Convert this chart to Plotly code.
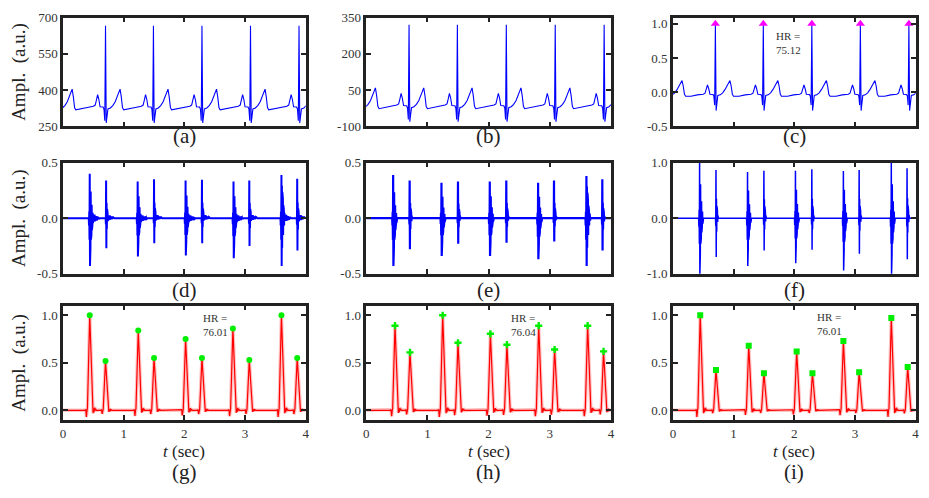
import plotly.graph_objects as go

# ---------------- data ----------------
T_RANGE = [0, 4]
T_TICKS = [0, 1, 2, 3, 4]

# ECG (row 1): R-peak times (s) and one beat
R_TIMES = [-0.09, 0.70, 1.49, 2.29, 3.09, 3.89]
ECG_DT = [-0.40, -0.30, -0.20, -0.17, -0.15, -0.13, -0.11, -0.09, -0.04, -0.025, -0.012, 0.0,
          0.012, 0.025, 0.04, 0.08, 0.12, 0.16, 0.20, 0.22, 0.24, 0.26, 0.28, 0.30, 0.35]
ECG_A = [322, 328, 333, 338, 358, 381, 362, 331, 330, 320, 273, 666,
         264, 300, 322, 326, 336, 352, 378, 395, 404, 372, 328, 318, 320]
ECG_B = [-23, -17, -12, -7, 13, 36, 17, -14, -15, -25, -72, 321,
         -81, -45, -23, -19, -9, 7, 33, 50, 59, 27, -17, -27, -25]
ECG_C = [-0.06, -0.04, -0.03, -0.015, 0.04, 0.105, 0.05, -0.03, -0.035, -0.06, -0.19, 1.0,
         -0.27, -0.12, -0.05, -0.04, -0.01, 0.04, 0.11, 0.15, 0.17, 0.09, -0.03, -0.06, -0.06]
R_PEAK_T = [0.70, 1.49, 2.29, 3.09, 3.89]
R_PEAK_V = [1.0, 1.0, 1.0, 1.0, 1.0]
HR_C = "75.12"

# PCG (row 2): heart-sound times and burst extremes
S1_TIMES = [0.44, 1.23, 2.02, 2.81, 3.60]
S2_TIMES = [0.71, 1.50, 2.29, 3.07, 3.86]
PCG_STEP = 0.004
S1_SHAPE = [0.0, -0.15, 0.15, -0.45, 1.0, -1.0, 0.75, -0.62, 0.6, -0.45, 0.45, -0.35,
            0.3, -0.25, 0.2, -0.15, 0.12, -0.1, 0.06, -0.05]
S1_MAIN = 4
S2_SHAPE = [0.0, -0.2, 1.0, -1.0, 0.4, -0.35, 0.25, -0.2, 0.15, -0.1, 0.06, -0.05]
S2_MAIN = 2
RING_TAIL = [0.06, -0.06, 0.05, -0.05, 0.08, -0.06, 0.05, -0.04, 0.04, -0.04, 0.03, -0.03,
             0.05, -0.04, 0.03, -0.03, 0.02, -0.02, 0.03, -0.02, 0.02, -0.02, 0.01, -0.01]

D_S1_POS = [0.40, 0.33, 0.34, 0.33, 0.39]
D_S1_NEG = [-0.43, -0.345, -0.335, -0.36, -0.43]
D_S2_POS = [0.34, 0.35, 0.345, 0.34, 0.355]
D_S2_NEG = [-0.27, -0.225, -0.225, -0.25, -0.29]

E_S1_POS = [0.39, 0.32, 0.33, 0.32, 0.38]
E_S1_NEG = [-0.43, -0.34, -0.34, -0.37, -0.43]
E_S2_POS = [0.34, 0.33, 0.34, 0.34, 0.35]
E_S2_NEG = [-0.28, -0.23, -0.22, -0.21, -0.29]

F_S1_POS = [1.02, 0.83, 0.855, 0.85, 1.02]
F_S1_NEG = [-1.02, -0.86, -0.81, -0.94, -1.02]
F_S2_POS = [0.87, 0.855, 0.88, 0.87, 0.90]
F_S2_NEG = [-0.70, -0.58, -0.57, -0.64, -0.74]

# Envelopes (row 3): peak times and heights
ENV_DT = [-0.08, -0.065, -0.055, -0.045, -0.038, 0.0, 0.048, 0.055, 0.062, 0.07, 0.08, 0.09, 0.10, 0.11]
ENV_FRAC = [0.0, 0.01, -0.07, 0.0, 0.02, 1.0, 0.02, -0.03, 0.02, -0.02, 0.03, 0.0, 0.01, 0.0]
G_T = [0.44, 0.70, 1.24, 1.50, 2.02, 2.29, 2.80, 3.07, 3.60, 3.86]
G_V = [1.0, 0.52, 0.84, 0.55, 0.75, 0.55, 0.86, 0.53, 1.0, 0.55]
H_T = [0.47, 0.715, 1.25, 1.50, 2.03, 2.30, 2.82, 3.08, 3.62, 3.88]
H_V = [0.89, 0.61, 1.0, 0.71, 0.805, 0.69, 0.89, 0.64, 0.89, 0.62]
I_T = [0.45, 0.71, 1.25, 1.50, 2.04, 2.30, 2.81, 3.07, 3.60, 3.87]
I_V = [1.0, 0.425, 0.68, 0.39, 0.62, 0.39, 0.73, 0.40, 0.97, 0.455]
HR_G = "76.01"
HR_H = "76.04"
HR_I = "76.01"

Y_LABEL = "Ampl.  (a.u.)"
X_LABEL = "<i>t</i> (sec)"
PANEL_LABELS = ["(a)", "(b)", "(c)", "(d)", "(e)", "(f)", "(g)", "(h)", "(i)"]

Y_AXES = [
    ([250, 700], [250, 400, 550, 700], ["250", "400", "550", "700"]),
    ([-100, 350], [-100, 50, 200, 350], ["-100", "50", "200", "350"]),
    ([-0.5, 1.09], [-0.5, 0, 0.5, 1.0], ["-0.5", "0.0", "0.5", "1.0"]),
    ([-0.5, 0.5], [-0.5, 0, 0.5], ["-0.5", "0.0", "0.5"]),
    ([-0.5, 0.5], [-0.5, 0, 0.5], ["-0.5", "0.0", "0.5"]),
    ([-1.0, 1.0], [-1.0, 0, 1.0], ["-1.0", "0.0", "1.0"]),
    ([-0.1, 1.1], [0, 0.5, 1.0], ["0.0", "0.5", "1.0"]),
    ([-0.1, 1.1], [0, 0.5, 1.0], ["0.0", "0.5", "1.0"]),
    ([-0.1, 1.1], [0, 0.5, 1.0], ["0.0", "0.5", "1.0"]),
]

# ---------------- builders ----------------
def build_ecg(template):
    t, v = [], []
    for r in R_TIMES:
        for dt, val in zip(ECG_DT, template):
            t.append(r + dt)
            v.append(val)
    return t, v


def build_pcg(p1, n1, p2, n2, tail):
    events = []
    for tm, p, n in zip(S1_TIMES, p1, n1):
        events.append((tm, S1_SHAPE, S1_MAIN, p, n))
    for tm, p, n in zip(S2_TIMES, p2, n2):
        events.append((tm, S2_SHAPE, S2_MAIN, p, n))
    events.sort(key=lambda e: e[0])
    t, v = [0.0], [0.0]
    for tm, shape, main, p, n in events:
        samples = list(shape) + (list(RING_TAIL) if tail else [])
        start = tm - main * PCG_STEP
        t.append(start - PCG_STEP)
        v.append(0.0)
        for i, s in enumerate(samples):
            t.append(start + i * PCG_STEP)
            v.append(s * p if s >= 0 else s * abs(n))
        t.append(start + len(samples) * PCG_STEP)
        v.append(0.0)
    t.append(4.0)
    v.append(0.0)
    return t, v


def build_env(times, peaks):
    t, v = [0.0], [0.0]
    for tm, pk in zip(times, peaks):
        for dt, f in zip(ENV_DT, ENV_FRAC):
            t.append(tm + dt)
            v.append(f * pk)
    t.append(4.0)
    v.append(0.0)
    return t, v


# ---------------- layout geometry (pixels) ----------------
W, H = 929, 498
COLS = [(60.5, 305), (366, 612.5), (675, 919.5)]
ROWS = [(11, 123), (160.5, 275), (308, 425.7)]
LABEL_Y = [133, 292, 479]
XLABEL_Y = 458
FONT = "Liberation Serif"
DARK = "#222222"
TXT = "#333333"

fig = go.Figure()

BLUE = "#0000ff"
RED = "#ff0000"
GREEN = "#00ee00"

traces = [
    build_ecg(ECG_A),
    build_ecg(ECG_B),
    build_ecg(ECG_C),
    build_pcg(D_S1_POS, D_S1_NEG, D_S2_POS, D_S2_NEG, True),
    build_pcg(E_S1_POS, E_S1_NEG, E_S2_POS, E_S2_NEG, False),
    build_pcg(F_S1_POS, F_S1_NEG, F_S2_POS, F_S2_NEG, False),
    build_env(G_T, G_V),
    build_env(H_T, H_V),
    build_env(I_T, I_V),
]
WIDTHS = [1.1, 1.1, 1.1, 2.0, 2.2, 1.5, 1.2, 1.2, 1.2]

for k, (t, v) in enumerate(traces):
    ax = "" if k == 0 else str(k + 1)
    if k >= 6:
        # soft halo under the envelope line, as in the reference
        fig.add_trace(go.Scatter(x=t, y=v, mode="lines",
                                 line=dict(color="rgba(255,80,80,0.35)", width=3.5),
                                 xaxis="x" + ax, yaxis="y" + ax, showlegend=False,
                                 hoverinfo="skip"))
    color = BLUE if k < 6 else RED
    fig.add_trace(go.Scatter(x=t, y=v, mode="lines", line=dict(color=color, width=WIDTHS[k]),
                             xaxis="x" + ax, yaxis="y" + ax, showlegend=False, hoverinfo="skip"))

# markers
fig.add_trace(go.Scatter(x=R_PEAK_T, y=R_PEAK_V, mode="markers",
                         marker=dict(symbol="triangle-up", color="#ff00ff", size=8),
                         xaxis="x3", yaxis="y3", showlegend=False))
fig.add_trace(go.Scatter(x=G_T, y=G_V, mode="markers",
                         marker=dict(symbol="circle", color=GREEN, size=6),
                         xaxis="x7", yaxis="y7", showlegend=False))
fig.add_trace(go.Scatter(x=H_T, y=H_V, mode="markers",
                         marker=dict(symbol="cross", color=GREEN, size=6),
                         xaxis="x8", yaxis="y8", showlegend=False))
fig.add_trace(go.Scatter(x=I_T, y=I_V, mode="markers",
                         marker=dict(symbol="square", color=GREEN, size=6),
                         xaxis="x9", yaxis="y9", showlegend=False))

layout = dict(width=W, height=H, margin=dict(l=0, r=0, t=0, b=0),
              paper_bgcolor="white", plot_bgcolor="white",
              font=dict(family=FONT, color=TXT))

axis_common = dict(showgrid=False, zeroline=False, showline=True, mirror="allticks",
                   linecolor=DARK, linewidth=2.5, ticks="inside", ticklen=5,
                   tickwidth=2, tickcolor=DARK, tickfont=dict(family=FONT, size=13, color=TXT))

annotations = []
for k in range(9):
    r, c = divmod(k, 3)
    x0, x1 = COLS[c]
    y0, y1 = ROWS[r]
    ax = "" if k == 0 else str(k + 1)
    yr, yt, ytt = Y_AXES[k]
    layout["xaxis" + ax] = dict(axis_common, domain=[x0 / W, x1 / W], range=T_RANGE,
                                tickvals=T_TICKS, ticktext=[str(v) for v in T_TICKS],
                                showticklabels=(r == 2), anchor="y" + ax)
    layout["yaxis" + ax] = dict(axis_common, domain=[1 - y1 / H, 1 - y0 / H], range=yr,
                                tickvals=yt, ticktext=ytt, anchor="x" + ax)
    annotations.append(dict(text=PANEL_LABELS[k], x=(x0 + x1) / 2 / W, y=1 - LABEL_Y[r] / H,
                            xref="paper", yref="paper", showarrow=False,
                            font=dict(family=FONT, size=21, color=DARK),
                            xanchor="center", yanchor="middle"))
    if r == 2:
        annotations.append(dict(text=X_LABEL, x=(x0 + x1) / 2 / W, y=1 - XLABEL_Y / H,
                                xref="paper", yref="paper", showarrow=False,
                                font=dict(family=FONT, size=17, color=DARK),
                                xanchor="center", yanchor="middle"))
    if c == 0:
        annotations.append(dict(text=Y_LABEL, x=16 / W, y=1 - (y0 + y1) / 2 / H,
                                xref="paper", yref="paper", showarrow=False, textangle=-90,
                                font=dict(family=FONT, size=19, color=DARK),
                                xanchor="center", yanchor="middle"))

HR_TEXTS = [(HR_C, 777, 37), (HR_G, 199, 328), (HR_H, 510, 328), (HR_I, 818, 327)]
for val, px, py in HR_TEXTS:
    annotations.append(dict(text="HR =<br>" + val, x=px / W, y=1 - py / H,
                            xref="paper", yref="paper", showarrow=False,
                            xanchor="left", yanchor="middle", align="left",
                            font=dict(family=FONT, size=11, color=TXT)))

layout["annotations"] = annotations
fig.update_layout(**layout)
fig.write_html("out.html")
